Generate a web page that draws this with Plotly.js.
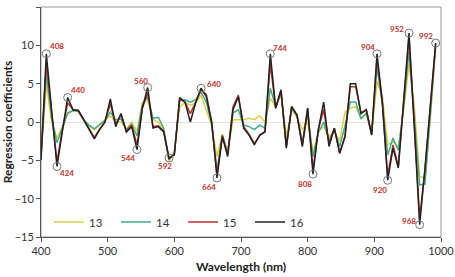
<!DOCTYPE html>
<html>
<head>
<meta charset="utf-8">
<script src="https://cdn.plot.ly/plotly-3.0.1.min.js"></script>
<style>
  html, body { margin: 0; padding: 0; background: #fff; }
  #chart { width: 455px; height: 277px; }
</style>
</head>
<body>
<div id="chart"></div>
<script>
// Wavelengths 400..992 nm, step 8 nm
const wavelengths = [400,408,416,424,432,440,448,456,464,472,480,488,496,504,512,520,528,536,544,552,560,568,576,584,592,600,608,616,624,632,640,648,656,664,672,680,688,696,704,712,720,728,736,744,752,760,768,776,784,792,800,808,816,824,832,840,848,856,864,872,880,888,896,904,912,920,928,936,944,952,960,968,976,984,992];

const seriesNames = ["13", "14", "15", "16"];

const s13 = [-4.5,5.0,0.0,-2.1,-0.6,1.0,1.5,1.4,0.2,-0.5,-1.0,-0.3,0.3,0.8,0.0,0.0,-0.9,0.0,-1.2,2.5,2.9,0.3,0.0,-1.0,-5.1,-4.0,2.0,2.5,2.2,2.5,3.5,1.5,-0.5,-4.5,-1.6,-4.0,0.3,0.3,0.3,0.5,0.3,0.8,0.0,3.1,2.0,3.5,-1.9,1.6,0.6,-1.0,0.0,-4.0,-1.2,-0.6,-1.9,-1.2,-2.5,1.3,1.8,2.0,0.5,1.0,-1.5,5.3,3.4,-3.0,-2.5,-3.3,1.5,7.6,2.0,-7.1,-7.3,0.5,9.8];

const s14 = [-4.5,6.3,0.5,-2.7,-0.8,1.2,1.5,1.4,0.3,-0.4,-0.9,-0.4,0.2,1.3,0.3,0.4,-1.0,-0.3,-1.8,2.2,3.3,0.5,0.6,-0.8,-4.9,-4.0,2.8,2.9,2.6,2.9,3.9,2.6,-0.3,-6.3,-1.7,-4.0,1.2,1.6,-0.4,-0.6,-1.0,-0.4,-0.8,4.4,2.0,3.9,-3.0,1.8,0.8,-2.6,1.0,-4.5,-1.4,0.0,-2.4,-1.0,-3.2,-0.5,2.6,2.6,0.4,1.2,-1.6,7.2,2.4,-4.3,-2.1,-3.7,2.0,9.2,0.0,-8.2,-8.1,1.0,10.0];

const s15 = [-4.5,7.7,1.2,-5.2,-1.0,2.5,1.6,1.5,0.3,-0.9,-2.0,-0.9,0.0,2.4,-0.3,1.0,-1.2,-0.4,-3.0,1.8,3.8,-0.6,-0.5,-1.2,-4.8,-4.2,3.0,2.6,1.1,2.6,4.2,3.6,0.0,-6.8,-1.8,-4.2,2.0,3.5,-0.6,-1.6,-2.8,-1.8,-1.2,7.6,1.8,4.1,-3.2,2.0,0.9,-3.0,1.8,-6.2,-1.0,1.6,-2.8,-0.8,-4.0,-1.9,4.6,4.6,1.2,1.6,-1.6,8.3,2.5,-7.0,-3.0,-5.8,2.5,11.0,-0.5,-12.5,-6.2,2.0,10.2];

const s16 = [-5.0,8.9,1.5,-5.8,-1.3,3.2,1.6,1.5,0.3,-1.0,-2.2,-1.0,0.0,3.0,-0.6,1.1,-1.3,-0.6,-3.6,1.8,4.5,-0.8,-0.6,-1.3,-4.7,-4.3,3.2,2.6,0.0,2.5,4.4,3.3,0.0,-7.3,-1.9,-4.5,1.6,3.3,-0.8,-1.7,-3.0,-1.7,-1.3,8.9,1.8,4.2,-3.4,2.0,0.9,-3.2,1.8,-6.8,-1.0,2.6,-3.2,-0.8,-4.1,-1.9,5.0,5.0,1.1,1.6,-1.7,8.9,2.6,-7.6,-3.4,-6.0,2.5,11.6,-0.6,-13.4,-6.0,2.0,10.3];

// Marked wavelengths (circled on series 16)
const peakWavelengths = [408,424,440,544,560,592,640,664,744,808,904,920,952,968,992];

// ---- styling / placement (not data) ----
const colors = ["#E3CF45", "#3FAE8A", "#B8322C", "#222222"];
const labelShift = {
  408:[11,8], 424:[10,-7], 440:[10,7], 544:[-9,-8], 560:[-7,7], 592:[-4,-8],
  640:[13,4], 664:[-8,-9], 744:[10,6], 808:[-8,-10], 904:[-9,7], 920:[-8,-10],
  952:[-12,4], 968:[-11,4], 992:[-10,7]
};

const allSeries = [s13, s14, s15, s16];
const traces = allSeries.map((vals, i) => ({
  type: "scatter",
  mode: "lines",
  x: wavelengths,
  y: vals,
  name: seriesNames[i],
  line: { color: colors[i], width: 1.5 },
  hoverinfo: "x+y+name"
}));

const peakY = peakWavelengths.map(w => s16[wavelengths.indexOf(w)]);
traces.push({
  type: "scatter",
  mode: "markers",
  x: peakWavelengths,
  y: peakY,
  showlegend: false,
  marker: { symbol: "circle-open", size: 8, color: "#777", line: { width: 1, color: "#777" } },
  hoverinfo: "x+y"
});

const annotations = peakWavelengths.map((w, i) => ({
  x: w, y: peakY[i], xref: "x", yref: "y",
  text: String(w), showarrow: false,
  xshift: labelShift[w][0], yshift: labelShift[w][1],
  font: { family: "Lato, 'Open Sans', sans-serif", size: 8, color: "#C0302B", weight: "bold" }
}));

const fontFam = "Lato, 'Open Sans', 'Liberation Sans', sans-serif";

const layout = {
  width: 455, height: 277,
  margin: { l: 41, r: 14, t: 7, b: 40 },
  paper_bgcolor: "#fff", plot_bgcolor: "#fff",
  font: { family: fontFam, size: 11, color: "#333" },
  showlegend: true,
  legend: {
    orientation: "h", x: 0.02, y: 0.065, xanchor: "left", yanchor: "middle",
    bgcolor: "rgba(0,0,0,0)", font: { family: fontFam, size: 11.5, color: "#333" },
    entrywidth: 22, entrywidthmode: "pixels", tracegroupgap: 0
  },
  xaxis: {
    range: [400, 1000], dtick: 100, tick0: 400,
    showgrid: false, zeroline: false,
    showline: true, linecolor: "#555", linewidth: 1,
    ticks: "outside", ticklen: 4, tickcolor: "#555",
    tickfont: { family: fontFam, size: 11, color: "#333" },
    title: { text: "Wavelength (nm)", font: { family: fontFam, size: 12, color: "#222", weight: "bold" }, standoff: 6 }
  },
  yaxis: {
    range: [-15, 15], dtick: 5, tick0: -15,
    showgrid: false, zeroline: true, zerolinecolor: "#e2e2e2", zerolinewidth: 1,
    showline: true, linecolor: "#555", linewidth: 1,
    ticks: "outside", ticklen: 4, tickcolor: "#555",
    tickfont: { family: fontFam, size: 11, color: "#333" },
    title: { text: "Regression coefficients", font: { family: fontFam, size: 12, color: "#222", weight: "bold" }, standoff: 6 }
  },
  shapes: [{
    type: "rect", xref: "paper", yref: "paper", x0: 0, x1: 1, y0: 0, y1: 1,
    line: { color: "#999", width: 1 }, layer: "below"
  }],
  annotations: annotations
};

Plotly.newPlot("chart", traces, layout, { staticPlot: true, displayModeBar: false });
</script>
</body>
</html>
